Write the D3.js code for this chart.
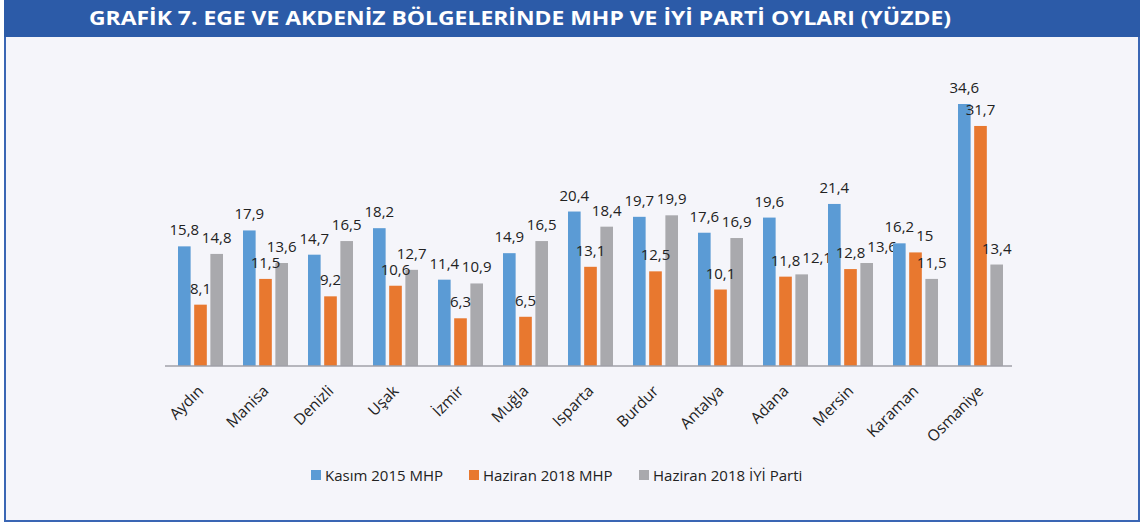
<meta charset='utf-8'>
<script src="https://d3js.org/d3.v7.min.js"></script>
<body style="margin:0"></body>
<script>

// DATA
var cities = ['Aydın', 'Manisa', 'Denizli', 'Uşak', 'İzmir', 'Muğla', 'Isparta', 'Burdur', 'Antalya', 'Adana', 'Mersin', 'Karaman', 'Osmaniye'];
var seriesNames = ['Kasım 2015 MHP', 'Haziran 2018 MHP', 'Haziran 2018 İYİ Parti'];
var mhp2015 = [15.8, 17.9, 14.7, 18.2, 11.4, 14.9, 20.4, 19.7, 17.6, 19.6, 21.4, 16.2, 34.6];
var mhp2018 = [8.1, 11.5, 9.2, 10.6, 6.3, 6.5, 13.1, 12.5, 10.1, 11.8, 12.8, 15, 31.7];
var iyi2018 = [14.8, 13.6, 16.5, 12.7, 10.9, 16.5, 18.4, 19.9, 16.9, 12.1, 13.6, 11.5, 13.4];
var colors = ['#5b9bd5', '#e8782f', '#a9a9ad'];

// INITIAL SETTINGS
var ww = 1144, wh = 525;
var svg = d3.select('body').append('svg')
    .attr('width', ww)
    .attr('height', wh);

// frame + title bar
svg.append('rect')
    .attr('x', 5).attr('y', 1)
    .attr('width', 1134).attr('height', 520)
    .attr('fill', '#f5f5fa')
    .attr('stroke', '#3a66b4')
    .attr('stroke-width', 2);
svg.append('rect')
    .attr('x', 4).attr('y', 0)
    .attr('width', 1136).attr('height', 37)
    .attr('fill', '#2c5ba8');
svg.append('text')
    .attr('x', 520).attr('y', 25)
    .attr('text-anchor', 'middle')
    .attr('font-family', 'Open Sans')
    .attr('font-weight', 'bold')
    .attr('font-size', 19)
    .attr('fill', 'white')
    .attr('textLength', 862)
    .attr('lengthAdjust', 'spacingAndGlyphs')
    .text('GRAFİK 7. EGE VE AKDENİZ BÖLGELERİNDE MHP VE İYİ PARTİ OYLARI (YÜZDE)');

// SCALES
var x = d3.scaleBand().domain(cities).range([168, 1013]).paddingInner(0).paddingOuter(0);
var sub = d3.scaleBand().domain([0, 1, 2]).range([10, 55]).paddingInner(0.22);
var y = d3.scaleLinear().domain([0, 34.6]).range([366, 104]);

var rows = cities.map(function (c, i) {
    return { city: c, vals: [mhp2015[i], mhp2018[i], iyi2018[i]] };
});

var groups = svg.selectAll('.grp').data(rows).enter().append('g')
    .attr('class', 'grp')
    .attr('transform', function (d) { return 'translate(' + x(d.city) + ',0)'; });

groups.selectAll('rect').data(function (d) { return d.vals; }).enter().append('rect')
    .attr('x', function (d, j) { return sub(j); })
    .attr('width', sub.bandwidth())
    .attr('y', function (d) { return y(d); })
    .attr('height', function (d) { return y(0) - y(d); })
    .attr('fill', function (d, j) { return colors[j]; });

groups.each(function () {
    var g = d3.select(this);
    var labs = g.selectAll('text').data(function (d) { return d.vals; }).enter().append('text')
        .attr('x', function (d, j) { return sub(j) + sub.bandwidth() / 2; })
        .attr('y', function (d) { return y(d) - 11; })
        .attr('text-anchor', 'middle')
        .attr('font-family', 'Open Sans')
        .attr('font-size', 15)
        .attr('fill', '#222')
        .text(function (d) { return String(d).replace('.', ','); });
    // push a label right if its digits bump into the one before it
    var nodes = labs.nodes();
    for (var j = 1; j < nodes.length; j++) {
        var a = nodes[j - 1].getBBox(), b = nodes[j].getBBox();
        var ya = +d3.select(nodes[j - 1]).attr('y'), yb = +d3.select(nodes[j]).attr('y');
        if (Math.abs(ya - yb) < 13 && b.x < a.x + a.width + 2) {
            var shift = a.x + a.width + 2 - b.x;
            d3.select(nodes[j]).attr('x', +d3.select(nodes[j]).attr('x') + shift);
        }
    }
});

// AXIS
var ax = svg.append('g').attr('transform', 'translate(0,366)')
    .call(d3.axisBottom(x).tickSize(0).tickPadding(0));
ax.select('.domain').attr('stroke', '#a0a0a8').attr('stroke-width', 1.5).attr('d', 'M165,0H1012');
ax.selectAll('.tick text')
    .attr('font-family', 'Open Sans')
    .attr('font-size', 15.5)
    .attr('fill', '#222')
    .attr('text-anchor', 'end')
    .attr('dy', 0)
    .attr('transform', 'translate(4,26) rotate(-45)');

// LEGEND
var legX = [311, 469, 639];
var leg = svg.selectAll('.leg').data(seriesNames).enter().append('g')
    .attr('class', 'leg')
    .attr('transform', function (d, i) { return 'translate(' + legX[i] + ',470)'; });
leg.append('rect').attr('width', 10).attr('height', 10)
    .attr('fill', function (d, i) { return colors[i]; });
leg.append('text')
    .attr('x', 14).attr('y', 10.5)
    .attr('font-family', 'Open Sans')
    .attr('font-size', 15)
    .attr('fill', '#222')
    .text(function (d) { return d; });

</script>
